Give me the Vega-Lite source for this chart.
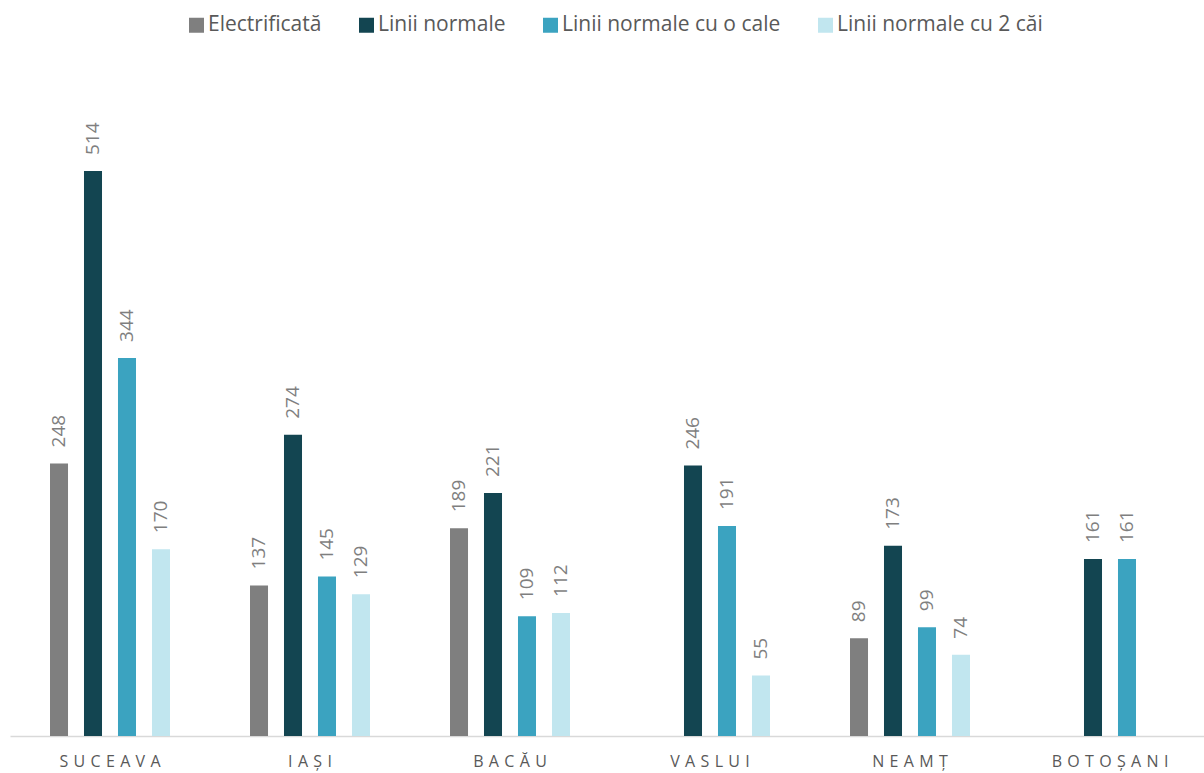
{
  "$schema": "https://vega.github.io/schema/vega-lite/v6.json",
  "width": 1200,
  "height": 659.5,
  "autosize": {"type": "none"},
  "padding": {"left": 10, "top": 76.5, "right": 0, "bottom": 37},
  "background": "white",
  "config": {"view": {"stroke": null}, "font": "Open Sans"},
  "data": {"values": [
    {"judet": "SUCEAVA", "serie": "Electrificată", "valoare": 248},
    {"judet": "SUCEAVA", "serie": "Linii normale", "valoare": 514},
    {"judet": "SUCEAVA", "serie": "Linii normale cu o cale", "valoare": 344},
    {"judet": "SUCEAVA", "serie": "Linii normale cu 2 căi", "valoare": 170},
    {"judet": "IAȘI", "serie": "Electrificată", "valoare": 137},
    {"judet": "IAȘI", "serie": "Linii normale", "valoare": 274},
    {"judet": "IAȘI", "serie": "Linii normale cu o cale", "valoare": 145},
    {"judet": "IAȘI", "serie": "Linii normale cu 2 căi", "valoare": 129},
    {"judet": "BACĂU", "serie": "Electrificată", "valoare": 189},
    {"judet": "BACĂU", "serie": "Linii normale", "valoare": 221},
    {"judet": "BACĂU", "serie": "Linii normale cu o cale", "valoare": 109},
    {"judet": "BACĂU", "serie": "Linii normale cu 2 căi", "valoare": 112},
    {"judet": "VASLUI", "serie": "Linii normale", "valoare": 246},
    {"judet": "VASLUI", "serie": "Linii normale cu o cale", "valoare": 191},
    {"judet": "VASLUI", "serie": "Linii normale cu 2 căi", "valoare": 55},
    {"judet": "NEAMȚ", "serie": "Electrificată", "valoare": 89},
    {"judet": "NEAMȚ", "serie": "Linii normale", "valoare": 173},
    {"judet": "NEAMȚ", "serie": "Linii normale cu o cale", "valoare": 99},
    {"judet": "NEAMȚ", "serie": "Linii normale cu 2 căi", "valoare": 74},
    {"judet": "BOTOȘANI", "serie": "Linii normale", "valoare": 161},
    {"judet": "BOTOȘANI", "serie": "Linii normale cu o cale", "valoare": 161}
  ]},
  "encoding": {
    "x": {
      "field": "judet", "type": "nominal", "sort": null,
      "scale": {"domain": ["SUCEAVA", "IAȘI", "BACĂU", "VASLUI", "NEAMȚ", "BOTOȘANI"], "paddingInner": 0.4, "paddingOuter": 0.2},
      "axis": {
        "title": null, "labelAngle": 0, "ticks": false,
        "domainColor": "#d9d9d9", "domainWidth": 1.5,
        "labelColor": "#595959", "labelFontSize": 16, "labelPadding": 17,
        "labelExpr": "join(split(datum.label, ''), '\u2004')"
      }
    },
    "xOffset": {
      "field": "serie", "type": "nominal",
      "scale": {"domain": ["Electrificată", "Linii normale", "Linii normale cu o cale", "Linii normale cu 2 căi"], "paddingInner": 0.47, "paddingOuter": 0}
    },
    "y": {
      "field": "valoare", "type": "quantitative",
      "scale": {"domain": [0, 600]},
      "axis": null
    }
  },
  "layer": [
    {
      "mark": {"type": "bar"},
      "encoding": {
        "color": {
          "field": "serie", "type": "nominal",
          "scale": {
            "domain": ["Electrificată", "Linii normale", "Linii normale cu o cale", "Linii normale cu 2 căi"],
            "range": ["#7f7f7f", "#134551", "#3ba3c0", "#c1e6ef"]
          },
          "legend": {
            "title": null, "orient": "none", "legendX": 176, "legendY": -62,
            "direction": "horizontal", "columns": 4,
            "symbolType": "square", "symbolSize": 225, "symbolStrokeWidth": 0,
            "labelFontSize": 21, "labelColor": "#595959", "labelOffset": 1,
            "columnPadding": 34, "labelLimit": 400
          }
        }
      }
    },
    {
      "mark": {"type": "text", "angle": 270, "align": "left", "baseline": "middle", "dx": 16, "fontSize": 19, "color": "#7f7f7f"},
      "encoding": {"text": {"field": "valoare", "type": "quantitative"}}
    }
  ]
}
